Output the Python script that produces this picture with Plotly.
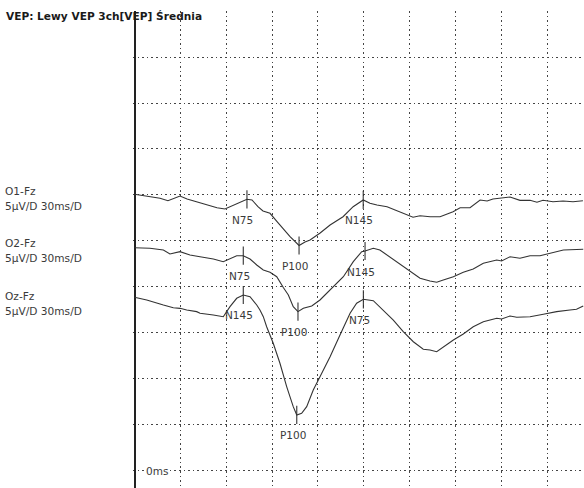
import plotly.graph_objects as go

# ---------------- data (time in ms, amplitude in µV; negative = up) ----------------
t_o1 = [0, 3.6, 10.1, 16.7, 21.9, 25.2, 29.8, 34.4, 40.9, 47.5, 54.0, 59.2, 62.5, 69.1, 73.6, 76.9,
        80.8, 84.1, 87.4, 88.7, 93.3, 95.2, 101.8, 107.7, 111.6, 114.9, 121.5, 128.0, 136.5, 143.1,
        149.7, 154.1, 158.7, 165.3, 173.8, 179.1, 182.3, 186.9, 193.5, 200.0, 204.6, 208.5, 213.1,
        219.6, 226.2, 230.8, 234.6, 240.5, 245.8, 252.3, 258.9, 263.4, 267.4, 273.9, 280.5, 287.0, 293.5]
v_o1 = [-0.08, 0.0, 0.18, 0.36, 0.62, 0.43, 0.11, 0.43, 0.73, 1.01, 1.38, 1.52, 1.27, 0.73, 0.47, 0.54,
        1.27, 1.74, 1.88, 1.99, 2.90, 3.26, 4.53, 5.49, 5.11, 4.89, 4.13, 3.26, 2.36, 1.27,
        0.54, 0.90, 1.09, 1.27, 1.81, 2.17, 2.42, 2.25, 2.36, 2.36, 2.10, 1.81, 1.38,
        1.38, 0.54, 0.65, 0.43, 0.36, 0.22, 0.58, 0.58, 0.79, 0.58, 0.73, 0.65, 0.73, 0.62]

t_o2 = [0, 10.1, 18.9, 23.2, 29.8, 36.3, 42.9, 51.6, 58.1, 62.5, 66.9, 71.2, 75.6, 80.0, 84.3, 88.7,
        93.1, 97.4, 100.7, 103.9, 107.0, 110.5, 116.0, 121.4, 128.0, 136.7, 143.2, 148.7, 150.9, 156.3,
        160.6, 165.1, 167.2, 175.9, 182.5, 186.9, 193.4, 197.8, 202.1, 208.7, 215.2, 221.7, 228.3,
        232.7, 237.1, 240.3, 245.8, 252.3, 258.9, 265.4, 271.9, 280.7, 293.7]
v_o2 = [0.73, 0.79, 0.98, 1.41, 1.16, 1.52, 1.71, 1.96, 2.25, 1.88, 1.60, 1.60, 1.96, 2.61, 3.15, 3.40,
        3.88, 5.05, 5.87, 7.14, 7.68, 7.32, 7.07, 6.41, 5.33, 3.88, 2.25, 1.16, 1.09, 0.79,
        0.98, 1.52, 1.71, 2.79, 3.51, 4.05, 4.35, 4.49, 4.24, 3.88, 3.40, 3.04, 2.42,
        2.25, 2.07, 2.17, 1.71, 1.88, 1.60, 1.60, 1.34, 0.98, 0.90]

t_oz = [0, 8.0, 18.9, 25.4, 29.8, 34.2, 40.7, 42.9, 51.6, 58.1, 62.5, 66.9, 71.2, 75.6, 80.0, 82.1,
        84.3, 86.5, 90.8, 95.2, 99.6, 103.9, 106.2, 109.4, 112.7, 117.0, 121.4, 128.0, 134.5, 141.1,
        145.4, 149.8, 156.3, 162.8, 169.4, 175.9, 182.5, 189.0, 193.4, 197.8, 202.1, 208.7, 215.2,
        221.7, 228.3, 237.1, 240.3, 245.8, 250.2, 258.9, 267.6, 276.3, 285.0, 289.3, 293.7]
v_oz = [1.12, 1.41, 1.96, 2.25, 2.32, 2.50, 2.68, 2.86, 3.04, 3.23, 2.14, 1.23, 0.87, 1.05, 1.96, 2.50,
        3.23, 4.32, 6.12, 8.29, 10.83, 13.01, 13.91, 13.73, 13.01, 11.20, 9.75, 7.58, 5.22, 2.86,
        1.77, 1.34, 1.49, 2.50, 3.59, 4.86, 5.95, 6.77, 6.85, 7.03, 6.49, 5.76, 5.11,
        4.32, 3.77, 3.40, 3.48, 3.15, 3.29, 3.23, 2.97, 2.68, 2.50, 2.42, 2.07]

peak_names_o1 = ["N75", "P100", "N145"]
peak_t_o1 = [73.6, 107.7, 149.7]
peak_v_o1 = [0.47, 5.49, 0.54]

peak_names_o2 = ["N75", "P100", "N145"]
peak_t_o2 = [71.2, 107.0, 150.9]
peak_v_o2 = [1.60, 7.68, 1.09]

peak_names_oz = ["N145", "P100", "N75"]
peak_t_oz = [71.2, 106.2, 149.8]
peak_v_oz = [0.87, 13.91, 1.34]

channel_names = ["O1-Fz", "O2-Fz", "Oz-Fz"]
scale_label = "5µV/D 30ms/D"
title_text = "VEP: Lewy VEP 3ch[VEP] Średnia"
zero_label = "0ms"

# ---------------- layout geometry ----------------
W, H = 584, 488
ML, MT = 133, 11
PW, PH = W - ML, H - MT
offsets = [30, 25, 20]          # baseline of each channel (in µV on the display scale)
label_py = [(191, 206), (243, 258), (296, 311)]

def pxx(px):
    return (px - ML) / PW

def pxy(py):
    return (H - py) / PH

LINE = "#333333"
TXT = "#3a3a3a"
FONT = "DejaVu Sans"

fig = go.Figure()
series = [
    (t_o1, v_o1, peak_names_o1, peak_t_o1, peak_v_o1),
    (t_o2, v_o2, peak_names_o2, peak_t_o2, peak_v_o2),
    (t_oz, v_oz, peak_names_oz, peak_t_oz, peak_v_oz),
]
annotations = []
for (t, v, pn, pt, pv), off, name in zip(series, offsets, channel_names):
    fig.add_trace(go.Scatter(x=t, y=[off - a for a in v], mode="lines",
                             line=dict(color=LINE, width=1.1), name=name,
                             showlegend=False, hoverinfo="skip"))
    fig.add_trace(go.Scatter(x=pt, y=[off - a for a in pv], mode="markers",
                             marker=dict(symbol="line-ns", size=13,
                                         line=dict(color=LINE, width=1.1)),
                             showlegend=False, hoverinfo="skip"))
    for n, x, a in zip(pn, pt, pv):
        annotations.append(dict(x=x, y=off - a, xref="x", yref="y", text=n, showarrow=False,
                                xshift=-4, yshift=-20.5, xanchor="center", yanchor="middle",
                                font=dict(family=FONT, size=10.5, color=TXT)))

for name, (y1, y2) in zip(channel_names, label_py):
    annotations.append(dict(x=pxx(3), y=pxy(y1), xref="paper", yref="paper", text=name,
                            showarrow=False, xanchor="left", yanchor="middle",
                            font=dict(family=FONT, size=10.6, color=TXT)))
    annotations.append(dict(x=pxx(3), y=pxy(y2), xref="paper", yref="paper", text=scale_label,
                            showarrow=False, xanchor="left", yanchor="middle",
                            font=dict(family=FONT, size=10.6, color=TXT)))

annotations.append(dict(x=pxx(4), y=pxy(16), xref="paper", yref="paper",
                        text="<b>" + title_text + "</b>", showarrow=False,
                        xanchor="left", yanchor="middle",
                        font=dict(family=FONT, size=10.6, color="#1a1a1a")))

annotations.append(dict(x=0, y=0, xref="x", yref="y", text=zero_label, showarrow=False,
                        xanchor="left", yanchor="middle", xshift=9, bgcolor="white",
                        font=dict(family=FONT, size=10.5, color=TXT)))

fig.update_layout(
    width=W, height=H,
    margin=dict(l=ML, r=0, t=MT, b=0, pad=0),
    plot_bgcolor="white", paper_bgcolor="white",
    annotations=annotations,
    xaxis=dict(range=[-0.98, 294.2], tick0=0, dtick=30, showticklabels=False, ticks="",
               showgrid=True, gridcolor="#444444", gridwidth=1.4, griddash="1.5px,3.1px",
               zeroline=True, zerolinecolor="#222222", zerolinewidth=1.6, showline=False),
    yaxis=dict(range=[-1.85, 50.0], tick0=0, dtick=5, showticklabels=False, ticks="",
               showgrid=True, gridcolor="#444444", gridwidth=1.4, griddash="1.5px,3.1px",
               zeroline=False, showline=False),
)

fig.write_html("out.html", config={"displayModeBar": False},
               post_script="document.body.style.margin='0';document.body.style.padding='0';")
